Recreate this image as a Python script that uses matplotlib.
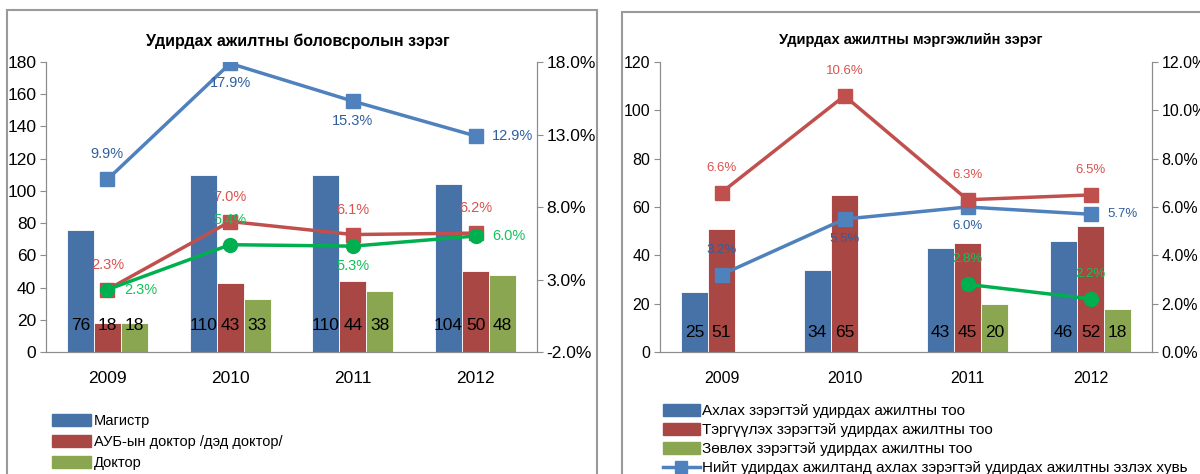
import matplotlib
matplotlib.use("Agg")
import matplotlib.pyplot as plt
import numpy as np
from matplotlib.patches import Rectangle
from matplotlib.ticker import FuncFormatter
from matplotlib.lines import Line2D
from matplotlib.patches import Patch

plt.rcParams['font.family'] = ['Liberation Sans', 'DejaVu Sans']

years = ["2009", "2010", "2011", "2012"]

# Left chart data
edu_title = "Удирдах ажилтны боловсролын зэрэг"
edu_names = ["Магистр", "АУБ-ын доктор /дэд доктор/", "Доктор"]
magistr = [76, 110, 110, 104]
aub_doktor = [18, 43, 44, 50]
doktor = [18, 33, 38, 48]
edu_pct_blue = [9.9, 17.9, 15.3, 12.9]
edu_pct_red = [2.3, 7.0, 6.1, 6.2]
edu_pct_green = [2.3, 5.4, 5.3, 6.0]

# Right chart data
prof_title = "Удирдах ажилтны мэргэжлийн зэрэг"
prof_names = ["Ахлах зэрэгтэй удирдах ажилтны тоо",
              "Тэргүүлэх зэрэгтэй удирдах ажилтны тоо",
              "Зөвлөх зэрэгтэй удирдах ажилтны тоо",
              "Нийт удирдах ажилтанд ахлах зэрэгтэй удирдах ажилтны эзлэх хувь"]
akhlakh = [25, 34, 43, 46]
tergvvlekh = [51, 65, 45, 52]
zovlokh = [None, None, 20, 18]
prof_pct_blue = [3.2, 5.5, 6.0, 5.7]
prof_pct_red = [6.6, 10.6, 6.3, 6.5]
prof_pct_green = [None, None, 2.8, 2.2]

C_BAR = ["#4672A8", "#A84744", "#8AA650"]
C_LINE = {"blue": "#4F81BD", "red": "#C0504D", "green": "#00B050"}
C_LAB = {"blue": "#2F5F9E", "red": "#D9534F", "green": "#12C25A"}
GRAY = "#8C8C8C"

fig = plt.figure(figsize=(12, 4.74), dpi=100)
W, H = 1200, 474

def fx(px): return px / W
def fy(py): return 1 - py / H

# panel borders
fig.patches.append(Rectangle((fx(7), fy(480)), fx(597) - fx(7), fy(10) - fy(480),
                             transform=fig.transFigure, fill=False, edgecolor="#9A9A9A", lw=1.5))
fig.patches.append(Rectangle((fx(622), fy(480)), fx(1215) - fx(622), fy(12) - fy(480),
                             transform=fig.transFigure, fill=False, edgecolor="#9A9A9A", lw=1.5))


def make_axes(l, r, t, b):
    return fig.add_axes([fx(l), fy(b), fx(r) - fx(l), fy(t) - fy(b)])


def style_axes(ax, ax2, fs):
    ax.spines["top"].set_visible(False)
    ax2.spines["top"].set_visible(False)
    for s in ["left", "right", "bottom"]:
        ax.spines[s].set_color(GRAY)
        ax2.spines[s].set_color(GRAY)
    ax.tick_params(axis="y", length=4, color=GRAY, labelsize=fs, pad=3)
    ax2.tick_params(axis="y", length=4, color=GRAY, labelsize=fs, pad=3)
    ax.tick_params(axis="x", length=0, labelsize=fs, pad=14)
    ax.set_xlim(-0.5, 3.5)


def draw_bars(ax, series, label_offset, fs):
    x = np.arange(len(years))
    bw = 0.22
    for i, vals in enumerate(series):
        xs = x + (i - 1) * bw
        v = np.array([np.nan if a is None else a for a in vals], dtype=float)
        ax.bar(xs, np.nan_to_num(v), width=bw, color=C_BAR[i], edgecolor="white", lw=0.6, zorder=2)
        for xi, vi in zip(xs, v):
            if not np.isnan(vi):
                ax.annotate(f"{int(vi)}", (xi, 0), xytext=(0, label_offset), textcoords="offset points",
                            ha="center", va="center", fontsize=fs, color="black", zorder=3)


def draw_line(ax2, vals, key, marker, positions, fs, ms):
    x = np.arange(len(years))
    v = np.array([np.nan if a is None else a for a in vals], dtype=float)
    ax2.plot(x, v, color=C_LINE[key], lw=2.5, marker=marker, ms=ms, zorder=5)
    offs = {"above": (0, 18, "center", "center"), "below": (0, -14, "center", "center"),
            "right": (12, 0, "left", "center")}
    for xi, vi, p in zip(x, v, positions):
        if np.isnan(vi):
            continue
        dx, dy, ha, va = offs[p]
        ax2.annotate(f"{vi:.1f}%", (xi, vi), xytext=(dx, dy), textcoords="offset points",
                     ha=ha, va=va, fontsize=fs, color=C_LAB[key], zorder=6)


pct_fmt = FuncFormatter(lambda v, p: f"{v:.1f}%")

# ---------- Left chart ----------
axL = make_axes(46, 537, 62, 352)
axL2 = axL.twinx()
style_axes(axL, axL2, 12.5)
axL.set_ylim(0, 180)
axL.set_yticks(np.arange(0, 181, 20))
axL2.set_ylim(-2, 18)
axL2.set_yticks([-2, 3, 8, 13, 18])
axL2.yaxis.set_major_formatter(pct_fmt)
axL.set_xticks(np.arange(4))
axL.set_xticklabels(years)
draw_bars(axL, [magistr, aub_doktor, doktor], 19, 12.5)
draw_line(axL2, edu_pct_blue, "blue", "s", ["above", "below", "below", "right"], 10.5, 10)
draw_line(axL2, edu_pct_red, "red", "s", ["above", "above", "above", "above"], 10.5, 10)
draw_line(axL2, edu_pct_green, "green", "o", ["right", "above", "below", "right"], 10.5, 10)
fig.text(fx(298), fy(41), edu_title, ha="center", va="center", fontsize=11.5, fontweight="bold")
fig.legend([Patch(color=c) for c in C_BAR], edu_names, loc="upper left",
           bbox_to_anchor=(fx(52), fy(414)), frameon=False, fontsize=10.5,
           handlelength=2.7, handleheight=0.9, handletextpad=0.15, labelspacing=0.46,
           borderaxespad=0, borderpad=0)

# ---------- Right chart ----------
axR = make_axes(660, 1152, 62, 352)
axR2 = axR.twinx()
style_axes(axR, axR2, 11.5)
axR.set_ylim(0, 120)
axR.set_yticks(np.arange(0, 121, 20))
axR2.set_ylim(0, 12)
axR2.set_yticks(np.arange(0, 12.1, 2))
axR2.yaxis.set_major_formatter(pct_fmt)
axR.set_xticks(np.arange(4))
axR.set_xticklabels(years)
draw_bars(axR, [akhlakh, tergvvlekh, zovlokh], 14, 12.5)
draw_line(axR2, prof_pct_blue, "blue", "s", ["above", "below", "below", "right"], 9.5, 10)
draw_line(axR2, prof_pct_red, "red", "s", ["above", "above", "above", "above"], 9.5, 10)
draw_line(axR2, prof_pct_green, "green", "o", ["above", "above", "above", "above"], 9.5, 10)
fig.text(fx(911), fy(40), prof_title, ha="center", va="center", fontsize=10.5, fontweight="bold")
fig.legend([Patch(color=c) for c in C_BAR] +
           [Line2D([], [], color=C_LINE["blue"], lw=2.5, marker="s", ms=8)],
           prof_names, loc="upper left",
           bbox_to_anchor=(fx(663), fy(404)), frameon=False, fontsize=11,
           handlelength=2.4, handleheight=0.85, handletextpad=0.15, labelspacing=0.3,
           borderaxespad=0, borderpad=0)

fig.savefig("out.png", dpi=100)
